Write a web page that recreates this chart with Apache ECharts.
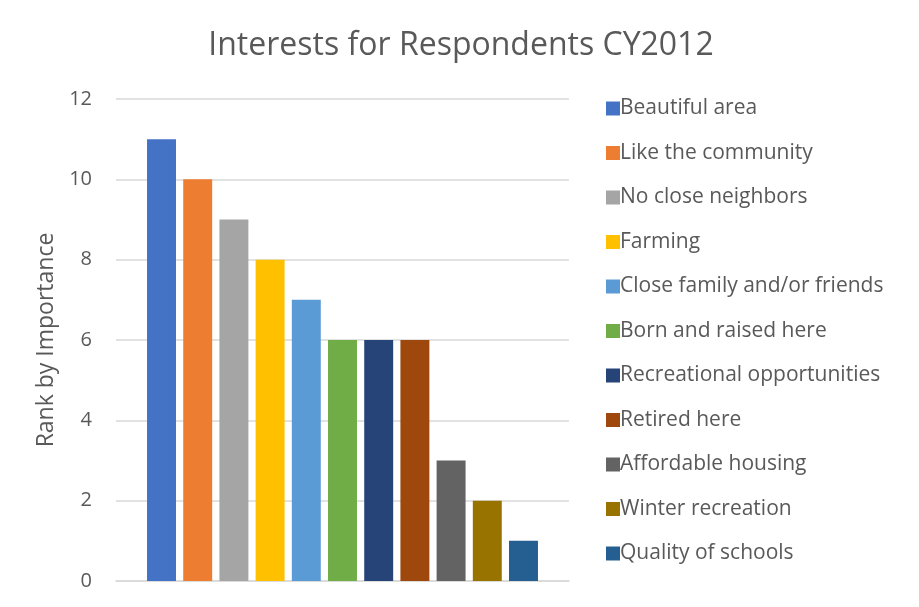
<!DOCTYPE html>
<html>
<head>
<meta charset="utf-8">
<script src="https://cdn.jsdelivr.net/npm/echarts@6/dist/echarts.min.js"></script>
<style>
  html, body { margin: 0; padding: 0; background: #fff; }
  #chart { width: 919px; height: 607px; }
</style>
</head>
<body>
<div id="chart"></div>
<script>
var chartDom = document.getElementById('chart');
var myChart = echarts.init(chartDom);

// data
var interests = [
  'Beautiful area',
  'Like the community',
  'No close neighbors',
  'Farming',
  'Close family and/or friends',
  'Born and raised here',
  'Recreational opportunities',
  'Retired here',
  'Affordable housing',
  'Winter recreation',
  'Quality of schools'
];
var ranks = [11, 10, 9, 8, 7, 6, 6, 6, 3, 2, 1];
var barColors = ['#4472C4', '#ED7D31', '#A5A5A5', '#FFC000', '#5B9BD5', '#70AD47',
                 '#264478', '#9E480E', '#636363', '#997300', '#255E91'];
var yTicks = { min: 0, max: 12, interval: 2 };

var font = '"Open Sans", "Noto Sans", sans-serif';

var series = interests.map(function (name, i) {
  return {
    name: name,
    type: 'bar',
    data: [ranks[i]],
    barGap: '25%',
    barCategoryGap: '13.7%',
    itemStyle: { color: barColors[i] }
  };
});

var option = {
  animation: false,
  color: barColors,
  title: {
    text: 'Interests for Respondents CY2012',
    left: 456,
    top: 25,
    textAlign: 'center',
    textStyle: { fontFamily: font, fontSize: 32, fontWeight: 'normal', color: '#595959' }
  },
  grid: { left: 116, right: 350, top: 99, bottom: 26, containLabel: false },
  legend: {
    orient: 'vertical',
    left: 601,
    top: 93,
    itemWidth: 14,
    itemHeight: 14,
    itemGap: 23.5,
    icon: 'rect',
    textStyle: { fontFamily: font, fontSize: 21, lineHeight: 21, color: '#595959', padding: [0, 0, 0, -5] },
    data: interests
  },
  xAxis: {
    type: 'category',
    data: [''],
    axisLine: { lineStyle: { color: '#D9D9D9', width: 1.5 } },
    axisTick: { show: false },
    axisLabel: { show: false }
  },
  yAxis: {
    type: 'value',
    min: yTicks.min,
    max: yTicks.max,
    interval: yTicks.interval,
    name: 'Rank by Importance',
    nameLocation: 'middle',
    nameGap: 58,
    nameTextStyle: { fontFamily: font, fontSize: 23, color: '#595959' },
    axisLine: { show: false },
    axisTick: { show: false },
    axisLabel: { fontFamily: font, fontSize: 20, color: '#595959', margin: 24 },
    splitLine: { lineStyle: { color: '#D9D9D9', width: 1.5 } }
  },
  series: series
};

myChart.setOption(option);
</script>
</body>
</html>
